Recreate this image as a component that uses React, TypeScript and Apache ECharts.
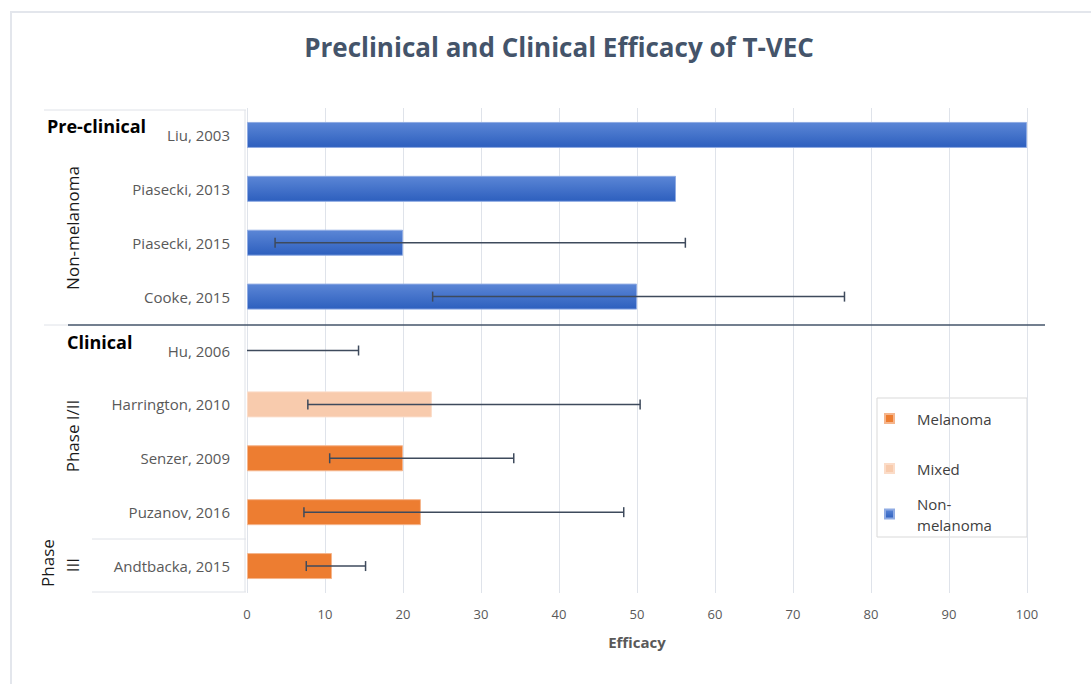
import React, { useEffect, useRef } from "react";
import * as echarts from "echarts";

const categories = [
  "Liu, 2003",
  "Piasecki, 2013",
  "Piasecki, 2015",
  "Cooke, 2015",
  "Hu, 2006",
  "Harrington, 2010",
  "Senzer, 2009",
  "Puzanov, 2016",
  "Andtbacka, 2015",
];
const melanoma = [null, null, null, null, null, null, 20, 22.3, 10.9];
const mixed = [null, null, null, null, null, 23.7, null, null, null];
const nonMelanoma = [100, 55, 20, 50, null, null, null, null, null];
const errLow = [null, null, 3.6, 23.8, 0, 7.8, 10.6, 7.3, 7.6];
const errHigh = [null, null, 56.2, 76.6, 14.3, 50.4, 34.2, 48.3, 15.2];
const xTicks = [0, 10, 20, 30, 40, 50, 60, 70, 80, 90, 100];

const FONT = "'Open Sans', 'Liberation Sans', sans-serif";

export default function App() {
  const ref = useRef<HTMLDivElement>(null);
  useEffect(() => {
    if (!ref.current) return;
    const chart = echarts.init(ref.current, null, { renderer: "svg" });
    const toData = (arr: (number | null)[]) => arr.map((v) => (v == null ? "-" : v));
    const errData = categories
      .map((_, i) => (errHigh[i] == null ? null : [errLow[i], errHigh[i], i]))
      .filter((d) => d !== null);
    const blue = new echarts.graphic.LinearGradient(0, 0, 0, 1, [
      { offset: 0, color: "#5b86d6" },
      { offset: 1, color: "#2d5fbe" },
    ]);
    const legendText = {
      fontSize: 15,
      color: "#404040",
      fontFamily: FONT,
      lineHeight: 21,
      padding: [0, 0, 0, 18],
    };
    const lightLine = { stroke: "#dfe2e8", lineWidth: 1 };
    const labelStyle = { fontSize: 17, fill: "#1a1a1a", fontFamily: FONT, align: "center", verticalAlign: "middle" };
    chart.setOption({
      animation: false,
      backgroundColor: "#ffffff",
      grid: { left: 247, right: 64, top: 108, bottom: 91, containLabel: false },
      xAxis: {
        type: "value",
        min: 0,
        max: xTicks[xTicks.length - 1],
        interval: xTicks[1] - xTicks[0],
        axisLine: { show: false },
        axisTick: { show: false },
        splitLine: { show: true, lineStyle: { color: "#dfe3ea", width: 1 } },
        axisLabel: { color: "#595959", fontSize: 13, fontFamily: FONT, margin: 14 },
        name: "Efficacy",
        nameLocation: "middle",
        nameGap: 41,
        nameTextStyle: { color: "#595959", fontSize: 15, fontWeight: "bold", fontFamily: FONT },
      },
      yAxis: {
        type: "category",
        data: categories,
        inverse: true,
        axisLine: { show: false },
        axisTick: { show: false },
        splitLine: { show: false },
        axisLabel: { color: "#595959", fontSize: 15, fontFamily: FONT, margin: 17 },
      },
      legend: [
        { data: ["Melanoma"], left: 884, top: 408, padding: 0, itemWidth: 9, itemHeight: 9, icon: "rect", textStyle: legendText, selectedMode: false },
        { data: ["Mixed"], left: 884, top: 458, padding: 0, itemWidth: 9, itemHeight: 9, icon: "rect", textStyle: legendText, selectedMode: false },
        {
          data: ["Non-melanoma"], left: 884, top: 493, padding: 0, itemWidth: 9, itemHeight: 9, icon: "rect",
          textStyle: legendText, selectedMode: false, formatter: () => "Non-\nmelanoma",
        },
      ],
      series: [
        {
          name: "Melanoma", type: "bar", stack: "all", barWidth: 26, data: toData(melanoma),
          itemStyle: { color: "#ed7d31", borderColor: "#f5b58c", borderWidth: 1 },
        },
        {
          name: "Mixed", type: "bar", stack: "all", barWidth: 26, data: toData(mixed),
          itemStyle: { color: "#f8cbad", borderColor: "#fbdcc8", borderWidth: 1 },
        },
        {
          name: "Non-melanoma", type: "bar", stack: "all", barWidth: 26, data: toData(nonMelanoma),
          itemStyle: { color: blue, borderColor: "#8fabe3", borderWidth: 1 },
        },
        {
          name: "Error", type: "custom", z: 10, data: errData,
          encode: { x: [0, 1], y: 2 },
          renderItem: (params: any, api: any) => {
            const cat = api.value(2);
            const lo = api.coord([api.value(0), cat]);
            const hi = api.coord([api.value(1), cat]);
            const h = 5;
            const st = { stroke: "#3e4a5c", lineWidth: 1.5 };
            const children: any[] = [
              { type: "line", shape: { x1: lo[0], y1: lo[1], x2: hi[0], y2: hi[1] }, style: st },
              { type: "line", shape: { x1: hi[0], y1: hi[1] - h, x2: hi[0], y2: hi[1] + h }, style: st },
            ];
            if (api.value(0) > 0) {
              children.push({ type: "line", shape: { x1: lo[0], y1: lo[1] - h, x2: lo[0], y2: lo[1] + h }, style: st });
            }
            return { type: "group", children };
          },
        },
      ],
      graphic: [
        { type: "rect", shape: { x: 11, y: 12, width: 1200, height: 800 }, style: { fill: "none", stroke: "#e3e6ec", lineWidth: 2 }, silent: true },
        {
          type: "text", x: 559, y: 47,
          style: { text: "Preclinical and Clinical Efficacy of T-VEC", fontSize: 26, fontWeight: "bold", fill: "#44546a", fontFamily: FONT, align: "center", verticalAlign: "middle" },
        },
        { type: "line", shape: { x1: 44, y1: 110, x2: 246, y2: 110 }, style: lightLine },
        { type: "line", shape: { x1: 245, y1: 110, x2: 245, y2: 592 }, style: lightLine },
        { type: "line", shape: { x1: 44, y1: 325, x2: 68, y2: 325 }, style: lightLine },
        { type: "line", shape: { x1: 92, y1: 539, x2: 246, y2: 539 }, style: lightLine },
        { type: "line", shape: { x1: 92, y1: 592, x2: 246, y2: 592 }, style: lightLine },
        { type: "line", z: 20, shape: { x1: 68, y1: 325, x2: 1045, y2: 325 }, style: { stroke: "#44546a", lineWidth: 1.5 } },
        { type: "rect", shape: { x: 877, y: 398, width: 150, height: 139 }, style: { fill: "#ffffff", stroke: "#d9d9d9", lineWidth: 1 }, z: -1 },
        { type: "text", x: 47, y: 126, style: { text: "Pre-clinical", fontSize: 18, fontWeight: "bold", fill: "#000", fontFamily: FONT, verticalAlign: "middle" } },
        { type: "text", x: 67, y: 342, style: { text: "Clinical", fontSize: 18, fontWeight: "bold", fill: "#000", fontFamily: FONT, verticalAlign: "middle" } },
        { type: "text", x: 72, y: 228, rotation: Math.PI / 2, style: { ...labelStyle, text: "Non-melanoma" } },
        { type: "text", x: 72, y: 436, rotation: Math.PI / 2, style: { ...labelStyle, text: "Phase I/II" } },
        { type: "text", x: 47, y: 563, rotation: Math.PI / 2, style: { ...labelStyle, text: "Phase" } },
        { type: "text", x: 72, y: 565, rotation: Math.PI / 2, style: { ...labelStyle, text: "III" } },
      ],
    });
    return () => chart.dispose();
  }, []);
  return (
    <div
      ref={ref}
      style={{ position: "absolute", left: 0, top: 0, width: 1091, height: 684, background: "#fff" }}
    />
  );
}
